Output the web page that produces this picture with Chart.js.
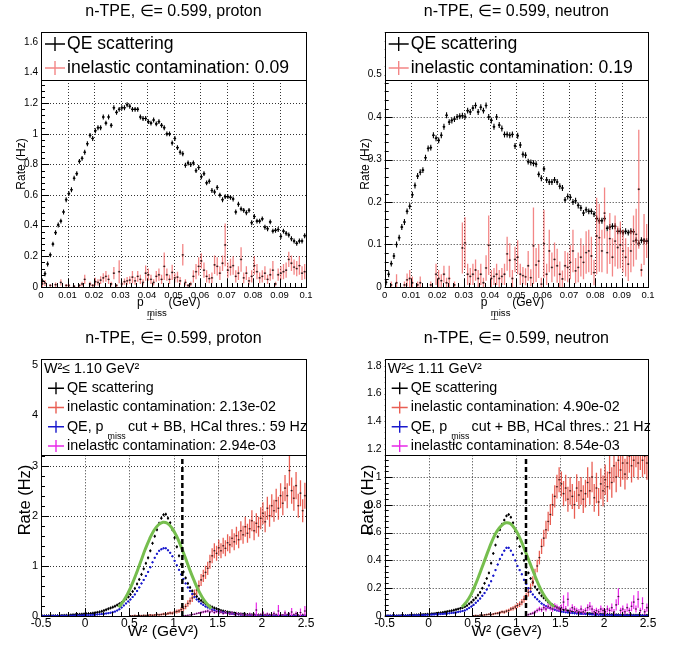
<!DOCTYPE html>
<html>
<head>
<meta charset="utf-8">
<script src="https://cdn.jsdelivr.net/npm/chart.js@4.4.1/dist/chart.umd.min.js"></script>
<style>
  body { margin: 0; background: #fff; width: 677px; height: 646px; position: relative; overflow: hidden; }
  canvas { position: absolute; }
</style>
</head>
<body>
<canvas id="pTop" width="338" height="320" style="left:0;top:0"></canvas>
<canvas id="nTop" width="340" height="320" style="left:337px;top:0"></canvas>
<canvas id="pW2" width="338" height="326" style="left:0;top:320px"></canvas>
<canvas id="nW2" width="340" height="326" style="left:337px;top:320px"></canvas>
<script>
const FONT = '"Liberation Sans", Arial, Helvetica, sans-serif';

// ---------- top row: p_perp,miss, 100 bins of 1 MeV ----------
const pmissLo = 0;
const pmissBin = 0.001;
const pmissTicks = [0, 0.01, 0.02, 0.03, 0.04, 0.05, 0.06, 0.07, 0.08, 0.09, 0.1];
const pmissTickLabels = ['0', '0.01', '0.02', '0.03', '0.04', '0.05', '0.06', '0.07', '0.08', '0.09', '0.1'];
const protonRateTicks = [0, 0.2, 0.4, 0.6, 0.8, 1, 1.2, 1.4, 1.6];
const protonRateLabels = ['0', '0.2', '0.4', '0.6', '0.8', '1', '1.2', '1.4', '1.6'];
const neutronRateTicks = [0, 0.1, 0.2, 0.3, 0.4, 0.5];
const neutronRateLabels = ['0', '0.1', '0.2', '0.3', '0.4', '0.5'];

const protonQE = [
  0.04, 0.087, 0.15, 0.21, 0.28, 0.355, 0.405, 0.43, 0.49, 0.57,
  0.61, 0.635, 0.71, 0.74, 0.82, 0.84, 0.88, 0.935, 0.99, 0.97,
  1.02, 1.04, 1.04, 1.11, 1.07, 1.11, 1.055, 1.17, 1.14, 1.16,
  1.17, 1.17, 1.19, 1.18, 1.16, 1.16, 1.16, 1.11, 1.10, 1.10,
  1.08, 1.07, 1.09, 1.065, 1.08, 1.055, 1.04, 1.0, 1.0, 0.94,
  0.97, 0.91, 0.88, 0.87, 0.795, 0.81, 0.80, 0.81, 0.76, 0.78,
  0.72, 0.74, 0.68, 0.69, 0.63, 0.62, 0.65, 0.60, 0.57, 0.59,
  0.59, 0.585, 0.575, 0.49, 0.54, 0.51, 0.50, 0.485, 0.50, 0.42,
  0.46, 0.43, 0.43, 0.445, 0.39, 0.38, 0.425, 0.365, 0.37, 0.375,
  0.33, 0.365, 0.35, 0.34, 0.315, 0.30, 0.285, 0.30, 0.30, 0.335
];
const protonQEErr = 0.016;
const protonInel = [
  0.02, 0.026, null, 0.01, null, 0.015, null, 0.03, null, 0.01,
  0.01, null, 0.005, null, 0.01, 0.02, 0.05, null, 0.02, 0.01,
  0.035, 0.03, 0.045, 0.06, 0.07, 0.05, 0.02, 0.09, 0.01, 0.1,
  0.02, 0.035, 0.04, 0.045, 0.065, 0.04, 0.07, 0.05, 0.03, 0.09,
  0.08, 0.05, 0.03, 0.07, 0.08, 0.05, 0.135, 0.08, 0.05, 0.095,
  0.06, 0.065, 0.04, 0.21, 0.03, 0.01, 0.02, 0.07, 0.1, 0.135,
  0.17, 0.11, 0.07, 0.055, 0.06, 0.145, 0.135, 0.09, 0.155, 0.275,
  0.11, 0.13, 0.14, 0.07, 0.09, 0.18, 0.06, 0.09, 0.04, 0.07,
  0.14, 0.1, 0.06, 0.07, 0.09, 0.05, 0.08, 0.11, 0.02, 0.08,
  0.09, 0.1, 0.11, 0.18, 0.155, 0.13, 0.12, 0.14, 0.09, 0.1
];
const protonInelErr = [
  0.02, 0.02, 0, 0.01, 0, 0.015, 0, 0.02, 0, 0.01,
  0.01, 0, 0.005, 0, 0.01, 0.015, 0.03, 0, 0.015, 0.01,
  0.025, 0.02, 0.025, 0.03, 0.035, 0.03, 0.015, 0.04, 0.01, 0.075,
  0.015, 0.02, 0.025, 0.025, 0.04, 0.025, 0.035, 0.03, 0.02, 0.05,
  0.04, 0.03, 0.02, 0.035, 0.04, 0.03, 0.09, 0.04, 0.03, 0.05,
  0.03, 0.035, 0.025, 0.07, 0.02, 0.01, 0.015, 0.04, 0.05, 0.06,
  0.05, 0.05, 0.04, 0.03, 0.035, 0.06, 0.06, 0.045, 0.05, 0.14,
  0.05, 0.055, 0.06, 0.04, 0.045, 0.08, 0.035, 0.045, 0.025, 0.04,
  0.06, 0.05, 0.035, 0.04, 0.045, 0.03, 0.04, 0.06, 0.015, 0.04,
  0.045, 0.05, 0.05, 0.05, 0.05, 0.05, 0.05, 0.06, 0.045, 0.05
];

const neutronQE = [
  0.011, 0.03, 0.055, 0.073, 0.1, 0.116, 0.141, 0.153, 0.178, 0.19,
  0.217, 0.239, 0.261, 0.27, 0.275, 0.304, 0.326, 0.328, 0.357, 0.35,
  0.345, 0.357, 0.377, 0.404, 0.388, 0.392, 0.395, 0.4, 0.402, 0.403,
  0.401, 0.415, 0.412, 0.421, 0.427, 0.412, 0.423, 0.415, 0.427, 0.4,
  0.392, 0.377, 0.4, 0.381, 0.373, 0.359, 0.359, 0.357, 0.359, 0.332,
  0.356, 0.334, 0.312, 0.31, 0.295, 0.293, 0.291, 0.289, 0.265, 0.256,
  0.278, 0.252, 0.247, 0.247, 0.252, 0.247, 0.237, 0.233, 0.205, 0.213,
  0.211, 0.2, 0.203, 0.192, 0.186, 0.174, 0.182, 0.178, 0.178, 0.172,
  0.161, 0.156, 0.156, 0.161, 0.138, 0.141, 0.143, 0.143, 0.131, 0.131,
  0.128, 0.131, 0.128, 0.131, 0.13, 0.11, 0.103, 0.11, 0.108, 0.108
];
const neutronQEErr = 0.007;
const neutronInel = [
  null, null, 0.005, null, 0.01, null, null, 0.005, 0.017, 0.02,
  0.01, null, 0.005, 0.01, null, null, null, 0.005, null, 0.03,
  0.02, 0.015, 0.03, 0.01, 0.02, null, 0.005, null, null, 0.092,
  0.104, 0.03, 0.025, 0.03, 0.04, 0.02, 0.03, 0.01, 0.045, 0.098,
  0.02, 0.025, 0.03, 0.02, 0.025, 0.03, 0.078, 0.063, 0.02, 0.065,
  0.07, 0.03, 0.027, 0.024, 0.05, 0.022, 0.097, 0.052, 0.061, 0.007,
  0.102, 0.03, 0.085, 0.046, 0.065, 0.05, 0.03, 0.019, 0.05, 0.046,
  0.058, 0.085, 0.038, 0.046, 0.07, 0.058, 0.081, 0.085, 0.073, 0.034,
  0.12, 0.116, 0.085, 0.174, 0.081, 0.114, 0.07, 0.108, 0.093, 0.099,
  0.085, 0.07, 0.054, 0.085, 0.108, 0.124, 0.23, 0.04, 0.112, 0.108
];
const neutronInelErr = [
  0, 0, 0.008, 0, 0.02, 0, 0, 0.008, 0.015, 0.02,
  0.015, 0, 0.008, 0.015, 0, 0, 0, 0.008, 0, 0.025,
  0.02, 0.015, 0.02, 0.012, 0.03, 0, 0.008, 0, 0, 0.06,
  0.06, 0.025, 0.02, 0.025, 0.025, 0.02, 0.025, 0.012, 0.03, 0.07,
  0.02, 0.02, 0.025, 0.02, 0.02, 0.025, 0.04, 0.04, 0.02, 0.03,
  0.04, 0.025, 0.02, 0.02, 0.035, 0.02, 0.09, 0.04, 0.04, 0.015,
  0.08, 0.025, 0.05, 0.035, 0.04, 0.04, 0.03, 0.02, 0.035, 0.035,
  0.04, 0.05, 0.03, 0.035, 0.045, 0.04, 0.05, 0.05, 0.045, 0.03,
  0.09, 0.08, 0.05, 0.06, 0.05, 0.06, 0.045, 0.06, 0.05, 0.055,
  0.05, 0.045, 0.04, 0.05, 0.06, 0.06, 0.14, 0.015, 0.06, 0.04
];

// ---------- bottom row: W^2, 120 bins of 0.025 GeV^2 ----------
const w2Lo = -0.5;
const w2Bin = 0.025;
const w2Ticks = [-0.5, 0, 0.5, 1, 1.5, 2, 2.5];
const w2TickLabels = ['-0.5', '0', '0.5', '1', '1.5', '2', '2.5'];
const protonW2RateTicks = [0, 1, 2, 3, 4, 5];
const protonW2RateLabels = ['0', '1', '2', '3', '4', '5'];
const neutronW2RateTicks = [0, 0.2, 0.4, 0.6, 0.8, 1, 1.2, 1.4, 1.6, 1.8];
const neutronW2RateLabels = ['0', '0.2', '0.4', '0.6', '0.8', '1', '1.2', '1.4', '1.6', '1.8'];

const protonW2QE = [
  0.002, 0.002, 0.003, 0.003, 0.004, 0.005, 0.005, 0.007, 0.008, 0.01,
  0.012, 0.014, 0.017, 0.02, 0.024, 0.027, 0.03, 0.033, 0.036, 0.04,
  0.043, 0.047, 0.05, 0.056, 0.064, 0.072, 0.081, 0.093, 0.108, 0.125,
  0.143, 0.16, 0.177, 0.195, 0.218, 0.243, 0.268, 0.3, 0.34, 0.38,
  0.43, 0.49, 0.55, 0.64, 0.73, 0.83, 0.94, 1.05, 1.16, 1.3,
  1.45, 1.59, 1.72, 1.85, 1.95, 2.02, 2.03, 1.95, 1.86, 1.72,
  1.56, 1.38, 1.2, 1.03, 0.88, 0.76, 0.65, 0.57, 0.5, 0.44,
  0.39, 0.34, 0.31, 0.28, 0.25, 0.22, 0.2, 0.18, 0.16, 0.145,
  0.13, 0.11, 0.1, 0.09, 0.08, 0.072, 0.066, 0.058, 0.052, 0.046,
  0.04, 0.037, 0.034, 0.03, 0.027, 0.024, 0.022, 0.02, 0.019, 0.017,
  0.016, 0.015, 0.014, 0.013, 0.012, 0.011, 0.011, 0.01, 0.009, 0.009,
  0.008, 0.008, 0.007, 0.007, 0.006, 0.006, 0.006, 0.005, 0.005, 0.005
];
const protonW2QEErr = 0.03;
const protonW2Sel = [
  0.001, 0.001, 0.001, 0.002, 0.002, 0.002, 0.003, 0.003, 0.004, 0.004,
  0.005, 0.006, 0.006, 0.007, 0.008, 0.009, 0.01, 0.011, 0.012, 0.014,
  0.016, 0.018, 0.02, 0.023, 0.026, 0.03, 0.034, 0.039, 0.044, 0.05,
  0.057, 0.066, 0.076, 0.088, 0.11, 0.135, 0.17, 0.21, 0.25, 0.29,
  0.33, 0.38, 0.43, 0.5, 0.57, 0.65, 0.72, 0.8, 0.88, 0.97,
  1.07, 1.16, 1.24, 1.3, 1.33, 1.35, 1.35, 1.31, 1.26, 1.19,
  1.1, 1.01, 0.92, 0.83, 0.74, 0.65, 0.57, 0.5, 0.44, 0.38,
  0.33, 0.29, 0.25, 0.22, 0.19, 0.17, 0.15, 0.13, 0.115, 0.1,
  0.09, 0.08, 0.07, 0.062, 0.055, 0.048, 0.043, 0.038, 0.033, 0.03,
  0.027, 0.024, 0.021, 0.019, 0.017, 0.015, 0.013, 0.012, 0.011, 0.01,
  0.009, 0.008, 0.008, 0.007, 0.006, 0.006, 0.005, 0.005, 0.004, 0.004,
  0.004, 0.003, 0.003, 0.003, 0.003, 0.002, 0.002, 0.002, 0.002, 0.002
];
const protonW2SelErr = 0.02;
const protonW2InelStart = 40;
const protonW2Inel = [
  0.005, 0.002, 0.01, 0.005, 0.01, 0.008, 0.012, 0.01, 0.015, 0.02,
  0.015, 0.02, 0.03, 0.025, 0.03, 0.04, 0.035, 0.05, 0.06, 0.055,
  0.08, 0.09, 0.1, 0.13, 0.15, 0.19, 0.25, 0.3, 0.36, 0.44,
  0.52, 0.6, 0.72, 0.8, 0.87, 0.95, 1.08, 1.2, 1.3, 1.25,
  1.36, 1.3, 1.4, 1.35, 1.46, 1.42, 1.55, 1.48, 1.6, 1.52,
  1.7, 1.62, 1.78, 1.65, 1.74, 1.9, 1.7, 1.85, 1.78, 1.95,
  2.05, 1.88, 2.15, 2.0, 2.2, 2.1, 2.3, 2.15, 2.4, 2.25,
  2.55, 2.4, 2.9, 2.5, 2.35, 2.6, 2.2, 2.45, 2.1, 2.4
];
const protonW2InelErr = [
  0.01, 0.01, 0.012, 0.01, 0.012, 0.012, 0.014, 0.013, 0.015, 0.018,
  0.016, 0.018, 0.022, 0.02, 0.022, 0.025, 0.024, 0.028, 0.03, 0.03,
  0.035, 0.038, 0.04, 0.045, 0.05, 0.055, 0.065, 0.07, 0.08, 0.09,
  0.1, 0.11, 0.12, 0.12, 0.13, 0.13, 0.14, 0.15, 0.15, 0.15,
  0.16, 0.15, 0.16, 0.16, 0.17, 0.17, 0.18, 0.17, 0.18, 0.17,
  0.19, 0.18, 0.2, 0.19, 0.19, 0.21, 0.19, 0.2, 0.2, 0.22,
  0.22, 0.21, 0.23, 0.22, 0.23, 0.22, 0.24, 0.23, 0.25, 0.24,
  0.26, 0.25, 0.3, 0.26, 0.25, 0.27, 0.24, 0.26, 0.23, 0.26
];
const protonW2SelInelStart = 64;
const protonW2SelInel = [
  0.005, 0.01, 0.015, 0.02, 0.03, 0.035, 0.05, 0.06, 0.07, 0.08, 0.09, 0.1, 0.08, 0.1, 0.07, 0.09,
  0.06, 0.08, 0.05, 0.07, 0.05, 0.04, 0.06, 0.03, 0.05, 0.03, 0.04, 0.02, 0.03, 0.02, 0.04, 0.02, 0.03, 0.12, 0.02, 0.03,
  0.06, 0.02, 0.04, 0.03, 0.02, 0.05, 0.03, 0.1, 0.03, 0.02, 0.06, 0.03, 0.04, 0.08, 0.03, 0.05, 0.02, 0.07, 0.03, 0.1
];
const protonW2SelInelErr = [
  0.005, 0.008, 0.01, 0.012, 0.015, 0.015, 0.02, 0.02, 0.025, 0.025, 0.03, 0.03, 0.03, 0.03, 0.03, 0.03,
  0.03, 0.03, 0.025, 0.03, 0.025, 0.025, 0.03, 0.02, 0.03, 0.02, 0.025, 0.02, 0.02, 0.02, 0.03, 0.02, 0.03, 0.15, 0.02, 0.02,
  0.04, 0.02, 0.03, 0.02, 0.02, 0.04, 0.02, 0.12, 0.02, 0.02, 0.05, 0.02, 0.03, 0.08, 0.02, 0.04, 0.02, 0.08, 0.02, 0.1
];

const neutronW2QE = [
  0.001, 0.001, 0.001, 0.001, 0.002, 0.002, 0.002, 0.003, 0.003, 0.004,
  0.004, 0.005, 0.006, 0.007, 0.008, 0.009, 0.01, 0.011, 0.012, 0.013,
  0.014, 0.016, 0.017, 0.019, 0.021, 0.023, 0.026, 0.029, 0.032, 0.035,
  0.038, 0.042, 0.046, 0.05, 0.055, 0.06, 0.067, 0.075, 0.088, 0.1,
  0.115, 0.13, 0.15, 0.17, 0.2, 0.235, 0.27, 0.31, 0.38, 0.45,
  0.51, 0.57, 0.62, 0.66, 0.69, 0.72, 0.73, 0.71, 0.67, 0.61,
  0.56, 0.5, 0.45, 0.4, 0.35, 0.31, 0.27, 0.24, 0.21, 0.19,
  0.165, 0.145, 0.13, 0.115, 0.1, 0.09, 0.08, 0.07, 0.062, 0.056,
  0.05, 0.045, 0.042, 0.038, 0.035, 0.032, 0.03, 0.027, 0.025, 0.023,
  0.021, 0.02, 0.019, 0.018, 0.017, 0.016, 0.015, 0.014, 0.013, 0.012,
  0.012, 0.011, 0.011, 0.01, 0.01, 0.009, 0.009, 0.008, 0.008, 0.008,
  0.007, 0.007, 0.007, 0.006, 0.006, 0.006, 0.005, 0.005, 0.005, 0.005
];
const neutronW2QEErr = 0.01;
const neutronW2Sel = [
  0.001, 0.001, 0.001, 0.001, 0.001, 0.001, 0.002, 0.002, 0.002, 0.002,
  0.003, 0.003, 0.004, 0.004, 0.005, 0.005, 0.006, 0.006, 0.007, 0.008,
  0.009, 0.01, 0.011, 0.012, 0.013, 0.014, 0.015, 0.017, 0.018, 0.02,
  0.022, 0.024, 0.026, 0.029, 0.032, 0.036, 0.04, 0.048, 0.058, 0.068,
  0.08, 0.095, 0.11, 0.125, 0.145, 0.165, 0.19, 0.22, 0.25, 0.29,
  0.33, 0.37, 0.41, 0.44, 0.47, 0.49, 0.49, 0.47, 0.44, 0.4,
  0.36, 0.33, 0.3, 0.26, 0.23, 0.2, 0.175, 0.155, 0.135, 0.12,
  0.105, 0.09, 0.08, 0.07, 0.062, 0.055, 0.05, 0.045, 0.04, 0.036,
  0.032, 0.029, 0.027, 0.025, 0.023, 0.021, 0.019, 0.018, 0.017, 0.016,
  0.015, 0.014, 0.013, 0.012, 0.011, 0.01, 0.01, 0.009, 0.009, 0.008,
  0.008, 0.007, 0.007, 0.006, 0.006, 0.006, 0.005, 0.005, 0.005, 0.004,
  0.004, 0.004, 0.004, 0.003, 0.003, 0.003, 0.003, 0.003, 0.002, 0.002
];
const neutronW2SelErr = 0.008;
const neutronW2InelStart = 40;
const neutronW2Inel = [
  0.002, 0.004, 0.003, 0.006, 0.005, 0.008, 0.01, 0.012, 0.01, 0.014,
  0.018, 0.02, 0.025, 0.03, 0.028, 0.035, 0.04, 0.05, 0.055, 0.065,
  0.075, 0.085, 0.1, 0.12, 0.14, 0.17, 0.2, 0.25, 0.3, 0.36,
  0.42, 0.5, 0.56, 0.62, 0.68, 0.73, 0.8, 0.86, 0.93, 0.98,
  0.95, 0.88, 0.92, 0.84, 0.9, 0.86, 0.8, 0.92, 0.87, 0.9,
  0.84, 0.88, 0.96, 0.9, 1.0, 0.85, 0.92, 0.82, 0.95, 0.9,
  0.98, 0.93, 1.03, 0.96, 1.08, 1.0, 1.12, 1.05, 1.1, 1.02,
  1.1, 1.15, 1.08, 1.12, 1.2, 1.1, 1.18, 1.12, 1.15, 1.1
];
const neutronW2InelErr = [
  0.003, 0.004, 0.004, 0.005, 0.005, 0.006, 0.006, 0.007, 0.007, 0.008,
  0.008, 0.009, 0.01, 0.01, 0.011, 0.012, 0.013, 0.014, 0.015, 0.016,
  0.018, 0.02, 0.022, 0.025, 0.028, 0.03, 0.033, 0.036, 0.04, 0.045,
  0.05, 0.055, 0.06, 0.065, 0.07, 0.075, 0.08, 0.08, 0.085, 0.09,
  0.09, 0.09, 0.095, 0.09, 0.1, 0.09, 0.1, 0.1, 0.1, 0.1,
  0.1, 0.1, 0.11, 0.1, 0.11, 0.1, 0.11, 0.1, 0.11, 0.11,
  0.11, 0.11, 0.12, 0.11, 0.12, 0.11, 0.12, 0.12, 0.12, 0.11,
  0.12, 0.12, 0.12, 0.12, 0.13, 0.12, 0.13, 0.12, 0.13, 0.12
];
const neutronW2SelInelStart = 64;
const neutronW2SelInel = [
  0.005, 0.01, 0.015, 0.02, 0.03, 0.04, 0.05, 0.045, 0.06, 0.05, 0.07, 0.06, 0.05, 0.07, 0.06, 0.05,
  0.06, 0.1, 0.05, 0.12, 0.04, 0.06, 0.05, 0.04, 0.03, 0.05, 0.03, 0.04, 0.06, 0.07, 0.05, 0.03, 0.04, 0.03, 0.05, 0.04,
  0.03, 0.05, 0.04, 0.06, 0.03, 0.08, 0.14, 0.04, 0.05, 0.03, 0.06, 0.04, 0.07, 0.1, 0.05, 0.12, 0.04, 0.09, 0.03, 0.06
];
const neutronW2SelInelErr = [
  0.004, 0.006, 0.008, 0.01, 0.012, 0.014, 0.016, 0.016, 0.018, 0.018, 0.02, 0.02, 0.02, 0.022, 0.022, 0.02,
  0.022, 0.05, 0.022, 0.05, 0.02, 0.025, 0.022, 0.02, 0.02, 0.025, 0.02, 0.02, 0.025, 0.03, 0.025, 0.02, 0.02, 0.02, 0.025, 0.02,
  0.02, 0.025, 0.02, 0.03, 0.02, 0.04, 0.06, 0.02, 0.025, 0.02, 0.03, 0.02, 0.035, 0.05, 0.025, 0.06, 0.02, 0.045, 0.02, 0.03
];

// gaussian fits of the QE peak, read at these W^2 points
const fitW2 = [0.38, 0.43, 0.48, 0.53, 0.58, 0.63, 0.68, 0.73, 0.78, 0.83, 0.88,
               0.93, 0.98, 1.03, 1.08, 1.13, 1.18, 1.23, 1.28, 1.33, 1.38, 1.43];
const protonFit = [0.17, 0.29, 0.44, 0.63, 0.85, 1.09, 1.33, 1.54, 1.71, 1.82, 1.87,
                   1.85, 1.76, 1.61, 1.41, 1.18, 0.94, 0.72, 0.52, 0.36, 0.24, 0.15];
const neutronFit = [0.065, 0.1, 0.15, 0.22, 0.3, 0.385, 0.47, 0.55, 0.61, 0.65, 0.67,
                    0.665, 0.63, 0.575, 0.5, 0.42, 0.34, 0.26, 0.19, 0.135, 0.095, 0.065];
const protonW2Cut = 1.10;
const neutronW2Cut = 1.11;

// ---------- helpers ----------
const RED_TOP = 'rgba(236, 60, 60, 0.62)';
const RED_BOT = 'rgba(226, 40, 25, 0.75)';
const BLUE = 'rgb(25, 25, 205)';
const MAGENTA = 'rgb(232, 40, 232)';
const GREEN = 'rgb(118, 190, 78)';

function hist(lo, w, start, vals, errs) {
  const pts = [];
  vals.forEach((v, k) => {
    if (v === null) return;
    pts.push({ x: lo + w * (start + k + 0.5), y: v, e: Array.isArray(errs) ? errs[k] : errs });
  });
  return pts;
}

function histSet(pts, o) {
  return {
    data: pts, showLine: false, order: o.order,
    pointRadius: o.r || 1.1, pointHoverRadius: 0, pointBorderWidth: 0,
    pointBackgroundColor: o.marker, binW: o.binW, errColor: o.errColor, errWidth: o.errWidth || 1
  };
}

function lineSet(xs, ys, o) {
  return Object.assign({
    data: xs.map((x, i) => ({ x: x, y: ys[i] })), showLine: true,
    pointRadius: 0, pointHoverRadius: 0, fill: false
  }, o);
}

function setFont(ctx, s) { ctx.font = s + 'px ' + FONT; }

// text with a "p_{perp miss}" style subscript
function drawPerpText(ctx, pre, post, x, y, s, sub) {
  ctx.textAlign = 'left'; ctx.textBaseline = 'middle';
  setFont(ctx, s);
  ctx.fillText(pre, x, y);
  x += ctx.measureText(pre).width + 0.18 * s;
  setFont(ctx, sub.size * s);
  ctx.fillText('\u22A5', x, y + sub.perpDy * s);
  const mx = x + 0.1 * s;
  ctx.fillText('miss', mx, y + sub.dy * s);
  x = mx + ctx.measureText('miss').width + 0.15 * s;
  setFont(ctx, s);
  ctx.fillText(post, x, y);
}

function tickVals(ticks, min, max, n) {
  const step = (ticks[1] - ticks[0]) / n, out = [];
  for (let j = 0; ticks[0] + j * step <= max + 1e-9; j++) out.push({ v: ticks[0] + j * step, major: j % n === 0 });
  for (let j = 1; ticks[0] - j * step >= min - 1e-9; j++) out.push({ v: ticks[0] - j * step, major: j % n === 0 });
  return out;
}

function rootDeco(d) {
  return {
    id: 'rootDeco',
    beforeDatasetsDraw(chart) {
      const { ctx, chartArea: a, scales: { x, y } } = chart;
      ctx.save();
      ctx.strokeStyle = '#333'; ctx.lineWidth = 1; ctx.setLineDash([1, 2]);
      ctx.beginPath();
      d.xTicks.forEach(v => {
        if (v <= x.min || v >= x.max) return;
        const px = Math.round(x.getPixelForValue(v)) + 0.5;
        ctx.moveTo(px, a.top); ctx.lineTo(px, a.bottom);
      });
      d.yTicks.forEach(v => {
        if (v <= y.min || v >= y.max) return;
        const py = Math.round(y.getPixelForValue(v)) + 0.5;
        ctx.moveTo(a.left, py); ctx.lineTo(a.right, py);
      });
      ctx.stroke();
      ctx.restore();
    },
    beforeDatasetDraw(chart, args) {
      const ds = chart.data.datasets[args.index];
      if (!ds.errColor) return;
      const { ctx, chartArea: a, scales: { x, y } } = chart;
      ctx.save();
      ctx.beginPath(); ctx.rect(a.left, a.top, a.width, a.height); ctx.clip();
      ctx.strokeStyle = ds.errColor; ctx.lineWidth = ds.errWidth;
      ctx.beginPath();
      ds.data.forEach(p => {
        const px = x.getPixelForValue(p.x), py = y.getPixelForValue(p.y);
        ctx.moveTo(x.getPixelForValue(p.x - ds.binW / 2), py);
        ctx.lineTo(x.getPixelForValue(p.x + ds.binW / 2), py);
        if (p.e > 0) {
          ctx.moveTo(px, y.getPixelForValue(p.y - p.e));
          ctx.lineTo(px, y.getPixelForValue(p.y + p.e));
        }
      });
      ctx.stroke();
      ctx.restore();
    },
    afterDatasetsDraw(chart) {
      const { ctx, chartArea: a, scales: { x, y } } = chart;
      ctx.save();
      // axis tick marks (inside the frame, bottom and left only)
      ctx.strokeStyle = '#000'; ctx.lineWidth = 1;
      ctx.beginPath();
      tickVals(d.xTicks, x.min, x.max, 5).forEach(t => {
        const px = Math.round(x.getPixelForValue(t.v)) + 0.5;
        ctx.moveTo(px, a.bottom); ctx.lineTo(px, a.bottom - (t.major ? 8 : 4));
      });
      tickVals(d.yTicks, y.min, y.max, 5).forEach(t => {
        const py = Math.round(y.getPixelForValue(t.v)) + 0.5;
        ctx.moveTo(a.left, py); ctx.lineTo(a.left + (t.major ? 8 : 4), py);
      });
      ctx.stroke();

      // legend box
      const L = d.legend;
      ctx.fillStyle = '#fff';
      ctx.fillRect(a.left, a.top, a.width, L.h);
      ctx.strokeStyle = '#000';
      ctx.strokeRect(Math.round(a.left) + 0.5, Math.round(a.top) + 0.5, Math.round(a.width), Math.round(L.h));
      const nRows = L.rows.length + (L.header ? 1 : 0);
      const rowH = L.h / nRows;
      let row = 0;
      ctx.fillStyle = '#000';
      if (L.header) {
        setFont(ctx, L.size); ctx.textAlign = 'left'; ctx.textBaseline = 'middle';
        ctx.fillText(L.header, a.left + 3, a.top + rowH * 0.5);
        row = 1;
      }
      L.rows.forEach(r => {
        const cy = a.top + rowH * (row + 0.5), cx = a.left + L.crossDx;
        ctx.strokeStyle = r.color; ctx.lineWidth = 1.4;
        ctx.beginPath();
        ctx.moveTo(cx - L.crossW, cy); ctx.lineTo(cx + L.crossW, cy);
        ctx.moveTo(cx, cy - L.crossH); ctx.lineTo(cx, cy + L.crossH);
        ctx.stroke();
        ctx.fillStyle = '#000';
        if (r.post !== undefined) {
          drawPerpText(ctx, r.text, r.post, a.left + L.textDx, cy, L.size, { size: 0.62, dy: 0.7, perpDy: 1.1 });
        } else {
          setFont(ctx, L.size); ctx.textAlign = 'left'; ctx.textBaseline = 'middle';
          ctx.fillText(r.text, a.left + L.textDx, cy);
        }
        row++;
      });

      // frame
      ctx.strokeStyle = '#000'; ctx.lineWidth = 1;
      ctx.strokeRect(Math.round(a.left) + 0.5, Math.round(a.top) + 0.5, Math.round(a.width), Math.round(a.height));

      // pad title
      ctx.fillStyle = '#000';
      setFont(ctx, d.title.size); ctx.textAlign = 'center'; ctx.textBaseline = 'middle';
      ctx.fillText(d.title.text, (a.left + a.right) / 2, d.title.y);

      // y axis title
      ctx.save();
      ctx.translate(d.yTitle.x, d.yTitle.y); ctx.rotate(-Math.PI / 2);
      setFont(ctx, d.yTitle.size); ctx.textAlign = 'center'; ctx.textBaseline = 'middle';
      ctx.fillText(d.yTitle.text, 0, 0);
      ctx.restore();

      // x axis title
      const X = d.xTitle;
      if (X.post !== undefined) {
        drawPerpText(ctx, X.text, X.post, X.x, X.y, X.size, { size: 0.8, dy: 0.9, perpDy: 1.2 });
      } else {
        setFont(ctx, X.size); ctx.textAlign = 'center'; ctx.textBaseline = 'middle';
        ctx.fillText(X.text, X.x, X.y);
      }
      ctx.restore();
    }
  };
}

function panel(id, o) {
  return new Chart(document.getElementById(id), {
    type: 'scatter',
    data: { datasets: o.datasets },
    options: {
      responsive: false, animation: false, devicePixelRatio: 1,
      events: [],
      layout: { padding: o.pad },
      plugins: { legend: { display: false }, tooltip: { enabled: false }, title: { display: false } },
      scales: {
        x: {
          type: 'linear', min: o.xMin, max: o.xMax,
          afterFit: s => { s.height = o.xAxisH; },
          afterBuildTicks: s => { s.ticks = o.xTicks.map(v => ({ value: v })); },
          grid: { display: false, drawTicks: false }, border: { display: false },
          ticks: {
            autoSkip: false, maxRotation: 0, minRotation: 0, padding: o.xPad, color: '#000',
            font: { family: FONT, size: o.xFont },
            callback: (v, i) => o.xLabels[i]
          }
        },
        y: {
          type: 'linear', min: o.yMin, max: o.yMax,
          afterFit: s => { s.width = o.yAxisW; },
          afterBuildTicks: s => { s.ticks = o.yTicks.map(v => ({ value: v })); },
          grid: { display: false, drawTicks: false }, border: { display: false },
          ticks: {
            autoSkip: false, padding: o.yPad, color: '#000',
            font: { family: FONT, size: o.yFont },
            callback: (v, i) => o.yLabels[i]
          }
        }
      }
    },
    plugins: [rootDeco(o.deco)]
  });
}

// ---------- top row ----------
function topPanel(id, who, qe, qeErr, inel, inelErr, frac, yMax, yTicks, yLabels, yAxisW, padR) {
  panel(id, {
    pad: { left: 0, top: 32, right: padR, bottom: 0 },
    yAxisW: yAxisW, xAxisH: 33,
    xMin: 0, xMax: 0.1, yMin: 0, yMax: yMax,
    xTicks: pmissTicks, xLabels: pmissTickLabels, yTicks: yTicks, yLabels: yLabels,
    xFont: 9.5, yFont: 10, xPad: 3, yPad: 3,
    datasets: [
      histSet(hist(pmissLo, pmissBin, 0, inel, inelErr), { order: 1, marker: '#222', binW: pmissBin, errColor: RED_TOP, errWidth: 1.3, r: 0.9 }),
      histSet(hist(pmissLo, pmissBin, 0, qe, qeErr), { order: 2, marker: '#000', binW: pmissBin, errColor: '#000', errWidth: 1.1, r: 1.1 })
    ],
    deco: {
      xTicks: pmissTicks, yTicks: yTicks,
      title: { text: 'n-TPE, \u2208= 0.599, ' + who, y: 12, size: 16 },
      yTitle: { text: 'Rate (Hz)', x: yAxisW - 19, y: 164, size: 12 },
      xTitle: { text: 'p', post: '(GeV)', x: yAxisW + 96, y: 303, size: 12 },
      legend: {
        h: 48, size: 17.6, textDx: 26, crossDx: 14, crossW: 10, crossH: 7,
        rows: [
          { text: 'QE scattering', color: '#000' },
          { text: 'inelastic contamination: ' + frac, color: RED_TOP }
        ]
      }
    }
  });
}

topPanel('pTop', 'proton', protonQE, protonQEErr, protonInel, protonInelErr, '0.09',
         1.665, protonRateTicks, protonRateLabels, 41, 32);
topPanel('nTop', 'neutron', neutronQE, neutronQEErr, neutronInel, neutronInelErr, '0.19',
         0.6, neutronRateTicks, neutronRateLabels, 47.7, 29);

// ---------- bottom row ----------
function w2Panel(id, who, s, yMax, yTicks, yLabels, yAxisW, padR, yFont, texts) {
  panel(id, {
    pad: { left: 0, top: 39.3, right: padR, bottom: 0 },
    yAxisW: yAxisW, xAxisH: 30,
    xMin: -0.5, xMax: 2.5, yMin: 0, yMax: yMax,
    xTicks: w2Ticks, xLabels: w2TickLabels, yTicks: yTicks, yLabels: yLabels,
    xFont: 12, yFont: yFont, xPad: 0, yPad: 3,
    datasets: [
      lineSet([s.cut, s.cut], [0, yMax], { order: 0, borderColor: '#000', borderWidth: 2.5, borderDash: [5, 3] }),
      lineSet(fitW2, s.fit, { order: 1, borderColor: GREEN, borderWidth: 3, tension: 0.4 }),
      histSet(hist(w2Lo, w2Bin, s.selInelStart, s.selInel, s.selInelErr), { order: 2, marker: '#333', binW: w2Bin, errColor: MAGENTA, errWidth: 1.2, r: 0.8 }),
      histSet(hist(w2Lo, w2Bin, 0, s.sel, s.selErr), { order: 3, marker: BLUE, binW: w2Bin, errColor: BLUE, errWidth: 1, r: 1 }),
      histSet(hist(w2Lo, w2Bin, s.inelStart, s.inel, s.inelErr), { order: 4, marker: '#222', binW: w2Bin, errColor: RED_BOT, errWidth: 1.3, r: 0.8 }),
      histSet(hist(w2Lo, w2Bin, 0, s.qe, s.qeErr), { order: 5, marker: '#000', binW: w2Bin, errColor: '#000', errWidth: 1, r: 1 })
    ],
    deco: {
      xTicks: w2Ticks, yTicks: yTicks,
      title: { text: 'n-TPE, \u2208= 0.599, ' + who, y: 19, size: 16 },
      yTitle: { text: 'Rate (Hz)', x: yAxisW - 16, y: 180, size: 16.5 },
      xTitle: { text: 'W\u00B2 (GeV\u00B2)', x: yAxisW + 122, y: 312, size: 15.5 },
      legend: {
        h: 96.4, size: 14.3, textDx: 26, crossDx: 15, crossW: 8, crossH: 6,
        header: 'W\u00B2\u2264 ' + s.cut.toFixed(2) + ' GeV\u00B2',
        rows: [
          { text: 'QE scattering', color: '#000' },
          { text: 'inelastic contamination: ' + texts[0], color: RED_BOT },
          { text: 'QE, p', post: 'cut + BB, HCal thres.: ' + texts[1] + ' Hz', color: BLUE },
          { text: 'inelastic contamination: ' + texts[2], color: MAGENTA }
        ]
      }
    }
  });
}

w2Panel('pW2', 'proton', {
  cut: protonW2Cut, fit: protonFit,
  qe: protonW2QE, qeErr: protonW2QEErr, sel: protonW2Sel, selErr: protonW2SelErr,
  inel: protonW2Inel, inelErr: protonW2InelErr, inelStart: protonW2InelStart,
  selInel: protonW2SelInel, selInelErr: protonW2SelInelErr, selInelStart: protonW2SelInelStart
}, 5.12, protonW2RateTicks, protonW2RateLabels, 41, 32, 11, ['2.13e-02', '59', '2.94e-03']);

w2Panel('nW2', 'neutron', {
  cut: neutronW2Cut, fit: neutronFit,
  qe: neutronW2QE, qeErr: neutronW2QEErr, sel: neutronW2Sel, selErr: neutronW2SelErr,
  inel: neutronW2Inel, inelErr: neutronW2InelErr, inelStart: neutronW2InelStart,
  selInel: neutronW2SelInel, selInelErr: neutronW2SelInelErr, selInelStart: neutronW2SelInelStart
}, 1.846, neutronW2RateTicks, neutronW2RateLabels, 47.7, 29, 10.5, ['4.90e-02', '21', '8.54e-03']);
</script>
</body>
</html>
